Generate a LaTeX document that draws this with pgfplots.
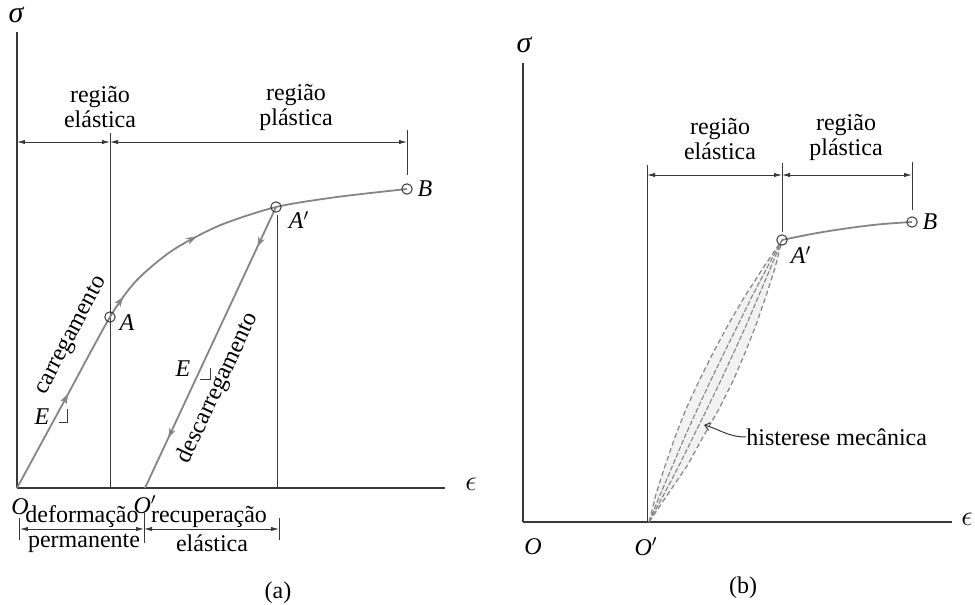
\documentclass[border=0pt,12pt]{standalone}
\usepackage{fontspec}
\setmainfont{Liberation Serif}
\usepackage{pgfplots}
\pgfplotsset{compat=1.18}
\usetikzlibrary{decorations.markings,arrows.meta}

\definecolor{curve}{gray}{0.52}
\definecolor{ink}{gray}{0.22}

\pgfplotsset{
  panel/.style={
    x=0.5pt, y=0.5pt, xmin=0, ymin=0,
    axis x line*=bottom, axis y line*=left,
    axis line style={ink, line width=0.75pt},
    ticks=none, clip=false, anchor=origin,
  },
  vmark/.style={only marks, mark=o, mark size=2.6pt,
    mark options={fill=white, draw=ink, line width=0.5pt}},
}
\tikzset{
  dim/.style={ink, line width=0.45pt,
    {Latex[length=4pt,width=2.2pt]}-{Latex[length=4pt,width=2.2pt]}},
  guide/.style={ink, line width=0.5pt},
  two/.style={align=center, inner sep=0pt, font={\fontsize{12}{12.5}\selectfont}},
  tip/.style={decoration={markings,
      mark=at position #1 with {\arrow{Stealth[length=4.5pt,width=3.2pt]}}},
      postaction={decorate}},
  sym/.style={font=\fontsize{14}{14}\selectfont},
}

\begin{document}
\begin{tikzpicture}
% ---------------- (a) loading and unloading ----------------
\begin{axis}[panel, xmax=428, ymax=456, at={(0pt,0pt)}]
  % guide lines
  \addplot[guide] coordinates {(93,0) (93,355)};
  \addplot[guide] coordinates {(260,0) (260,273)};
  \addplot[guide] coordinates {(390,313) (390,358)};
  % loading path O -> A -> A' -> B
  \addplot[curve, line width=0.9pt, smooth, tension=0.45,
    tip=0.2, tip=0.41, tip=0.59]
    coordinates {(0,0) (46.5,85.5) (93,171) (119.5,207.5) (156,238)
                 (202.5,262.5) (259,281) (320,291) (390,299)};
  % unloading A' -> O'
  \addplot[curve, line width=0.9pt, tip=0.14, tip=0.82]
    coordinates {(259,281) (128,0)};
  \addplot[vmark] coordinates {(93,171) (259,281) (390,299)};
  % region dimensions
  \draw[dim] (axis cs:0,346) -- (axis cs:93,346);
  \draw[dim] (axis cs:93,346) -- (axis cs:390,346);
  \node[two] at (axis cs:83,381) {região\\elástica};
  \node[two] at (axis cs:279,381) {região\\plástica};
  % point labels
  \node[sym, font=\fontsize{15}{15}\selectfont\itshape] at (axis cs:-1,473) {σ};
  \node[sym] at (axis cs:454,4) {$\epsilon$};
  \node at (axis cs:110,165) {\textit{A}};
  \node at (axis cs:282,268) {\textit{A}$'$};
  \node at (axis cs:408,299) {\textit{B}};
  \node at (axis cs:3,-19) {\textit{O}};
  \node at (axis cs:128,-17) {\textit{O}$'$};
  % slopes
  \node[rotate=62] at (axis cs:55,152) {carregamento};
  \node[rotate=65] at (axis cs:201,100) {descarregamento};
  \node at (axis cs:25,71) {\textit{E}};
  \draw[guide] (axis cs:42,65) -- (axis cs:51,65) -- (axis cs:51,79);
  \node at (axis cs:166,119) {\textit{E}};
  \draw[guide] (axis cs:183,108) -- (axis cs:193,108) -- (axis cs:193,120);
  % strain split
  \draw[dim] (axis cs:3,-41) -- (axis cs:127,-41);
  \draw[dim] (axis cs:127,-41) -- (axis cs:262,-41);
  \draw[guide] (axis cs:3,-30) -- (axis cs:3,-52);
  \draw[guide] (axis cs:127,-25) -- (axis cs:127,-55);
  \draw[guide] (axis cs:262,-30) -- (axis cs:262,-52);
  \node at (axis cs:65,-29) {deformação};
  \node at (axis cs:67,-55) {permanente};
  \node at (axis cs:192,-29) {recuperação};
  \node at (axis cs:195,-55) {elástica};
  \node at (axis cs:261,-105) {(a)};
\end{axis}

% ---------------- (b) reloading with hysteresis ----------------
\begin{axis}[panel, xmax=429, ymax=459, at={(253pt,-17pt)}]
  \addplot[guide] coordinates {(124,0) (124,357)};
  \addplot[guide] coordinates {(259,290) (259,359)};
  \addplot[guide] coordinates {(389,312) (389,360)};
  % hysteresis loop band
  \addplot[fill=gray!10, draw=none] coordinates {
    (126,0) (133,28) (142,56) (152,85) (163,113) (176,141) (190,169)
    (205,197) (222,226) (240,254) (259,282)
    (252,254) (243,226) (233,197) (222,169) (210,141) (196,113)
    (180,85) (164,56) (145,28) (126,0)};
  \addplot[curve, line width=0.6pt, dash pattern=on 2.5pt off 1.5pt] coordinates {
    (126,0) (133,28) (142,56) (152,85) (163,113) (176,141) (190,169)
    (205,197) (222,226) (240,254) (259,282)};
  \addplot[curve, line width=0.6pt, dash pattern=on 2.5pt off 1.5pt] coordinates {
    (126,0) (145,28) (164,56) (180,85) (196,113) (210,141) (222,169)
    (233,197) (243,226) (252,254) (259,282)};
  \addplot[curve, line width=0.55pt, dash pattern=on 2.5pt off 1pt] coordinates {
    (126,0) (137.5,28) (149.4,56) (161.7,85) (174.4,113) (187.5,141)
    (201,169) (214.9,197) (229.2,226) (243.9,254) (259,282)};
  \addplot[curve, line width=0.55pt, dash pattern=on 2.5pt off 1pt] coordinates {
    (126,0) (141.1,28) (155.8,56) (170.1,85) (184,113) (197.5,141)
    (210.6,169) (223.3,197) (235.6,226) (247.5,254) (259,282)};
  % plastic branch A' -> B
  \addplot[curve, line width=0.9pt, smooth, tension=0.6]
    coordinates {(259,282) (300,290) (350,297) (389,300)};
  \addplot[vmark] coordinates {(259,282) (389,300)};
  % region dimensions
  \draw[dim] (axis cs:124,347) -- (axis cs:259,347);
  \draw[dim] (axis cs:259,347) -- (axis cs:389,347);
  \node[two] at (axis cs:197,383) {região\\elástica};
  \node[two] at (axis cs:323,385) {região\\plástica};
  % labels
  \node[font=\fontsize{15}{15}\selectfont\itshape] at (axis cs:1,477) {σ};
  \node[sym] at (axis cs:444,3) {$\epsilon$};
  \node at (axis cs:278,267) {\textit{A}$'$};
  \node at (axis cs:407,300) {\textit{B}};
  \node at (axis cs:10,-25) {\textit{O}};
  \node at (axis cs:123,-25) {\textit{O}$'$};
  \draw[ink, line width=0.5pt, -{Straight Barb[length=2.5pt,width=4pt]}]
    (axis cs:223,85) .. controls (axis cs:205,85) and (axis cs:196,93) .. (axis cs:181,97);
  \node[anchor=west, inner sep=0pt] at (axis cs:223,85) {histerese mecânica};
  \node at (axis cs:220,-66) {(b)};
\end{axis}
\pgfresetboundingbox
\path (-8.5pt,-58.5pt) rectangle (479pt,244pt);
\end{tikzpicture}
\end{document}
